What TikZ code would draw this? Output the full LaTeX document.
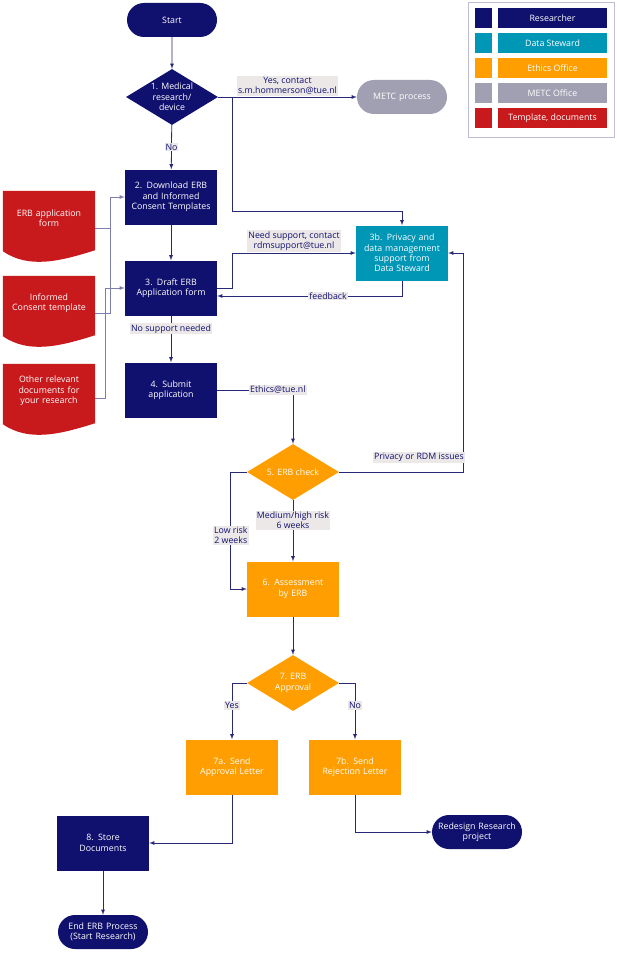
\documentclass[tikz,border=0pt]{standalone}
\usepackage{fontspec}
\setmainfont{Open Sans}
\usetikzlibrary{shapes.geometric,shapes.misc,positioning}
\definecolor{navy}{RGB}{16,16,110}
\definecolor{steward}{RGB}{0,150,182}
\definecolor{ethics}{RGB}{255,158,0}
\definecolor{metc}{RGB}{160,160,178}
\definecolor{docred}{RGB}{200,25,28}
\definecolor{lbl}{RGB}{236,232,232}
\definecolor{lnk}{RGB}{40,40,120}
\hyphenpenalty=10000
\begin{document}
\begin{tikzpicture}[x=1pt,y=-1pt,>=latex,font=\fontsize{8.8}{10.4}\selectfont,
    box/.style={rectangle,minimum width=92pt,minimum height=55pt,text width=80pt,align=center,text=white,inner sep=1pt},
    researcher/.style={box,fill=navy},
    steward node/.style={box,fill=steward},
    ethics node/.style={box,fill=ethics},
    terminal/.style={rounded rectangle,minimum width=92pt,minimum height=34pt,text width=80pt,align=center,text=white,inner sep=1pt},
    decision/.style={diamond,aspect=1.6,minimum width=92pt,minimum height=56pt,inner sep=0pt,align=center,text=white},
    doc/.style={rectangle,minimum width=92pt,minimum height=54pt,text width=84pt,align=center,text=white,inner sep=1pt},
    tag/.style={fill=lbl,inner sep=1pt,align=center,text=navy},
    line/.style={draw=lnk,thick},
    arr/.style={line,->},
    legkey/.style={rectangle,minimum width=17pt,minimum height=20pt,inner sep=0pt},
    legtext/.style={rectangle,minimum width=109pt,minimum height=20pt,inner sep=0pt,text=white}]
  \useasboundingbox (0,0) rectangle (616,955);
  \fill[white] (0,0) rectangle (616,955);

  % flow
  \node[terminal,fill=navy] (start) at (172,20) {Start};
  \node[decision,fill=navy] (medical) at (172,97) {1. Medical\\research/\\device};
  \node[terminal,fill=metc] (metcp) at (402,97) {METC process};
  \node[researcher] (download) at (171,197) {2. Download ERB and Informed Consent Templates};
  \node[researcher] (draft) at (171,288) {3. Draft ERB Application form};
  \node[steward node] (privacy) at (402,253) {3b. Privacy and data management support from Data Steward};
  \node[researcher] (submit) at (171,390) {4. Submit\\application};
  \node[decision,fill=ethics] (check) at (293,472) {5. ERB check};
  \node[ethics node] (assess) at (293,589) {6. Assessment by ERB};
  \node[decision,fill=ethics] (approval) at (293,683) {7. ERB\\Approval};
  \node[ethics node] (send) at (232,767) {7a. Send Approval Letter};
  \node[ethics node] (reject) at (355,767) {7b. Send Rejection Letter};
  \node[researcher] (store) at (103,843) {8. Store\\Documents};
  \node[terminal,fill=navy] (redesign) at (477,832) {Redesign Research\\project};
  \node[terminal,fill=navy] (finish) at (103,932) {End ERB Process (Start Research)};

  % documents
  \node[doc] (formdoc) at (49,218) {};
  \node[doc] (consentdoc) at (49,303) {};
  \node[doc] (otherdoc) at (49,391) {};
  \foreach \d in {formdoc,consentdoc,otherdoc}
    \fill[docred] (\d.north west) -- (\d.north east) -- ([yshift=-5pt]\d.south east)
      .. controls ([xshift=-35pt,yshift=-16pt]\d.south east) and ([xshift=-20pt,yshift=-24pt]\d.south) .. ([yshift=-6pt]\d.south west) -- cycle;
  \foreach \d/\t in {formdoc/ERB application form,consentdoc/Informed Consent template,otherdoc/Other relevant documents for your research}
    \node[doc] at (\d) {\t};

  % connectors
  \draw[arr] (start) -- (medical);
  \draw[arr] (medical) -- node[tag] {No} (download);
  \draw[arr] (medical) -- node[tag,above=1pt] {Yes, contact\\s.m.hommerson@tue.nl} (metcp);
  \draw[arr] (232,97) |- (402,211) -- (privacy);
  \draw[arr] (download) -- (draft);
  \draw[arr] (draft.east) -- ++(15,0) |- node[tag,pos=0.75,above=1pt] {Need support, contact\\rdmsupport@tue.nl} (privacy.west);
  \draw[arr] (privacy.south) |- node[tag,pos=0.7] {feedback} ([yshift=-8pt]draft.east);
  \draw[arr] (draft) -- node[tag,pos=0.28] {No support needed} (submit);
  \draw[arr] (submit.east) -| node[tag,pos=0.4] {Ethics@tue.nl} (check.north);
  \draw[arr] (check.east) -- ++(124,0) |- node[tag,pos=0.02,above left=0pt and -2pt] {Privacy or RDM issues} (privacy.east);
  \draw[arr] (check.west) -- ++(-16,0) |- node[tag,pos=0.27] {Low risk\\2 weeks} (assess.west);
  \draw[arr] (check) -- node[tag,pos=0.33] {Medium/high risk\\6 weeks} (assess);
  \draw[arr] (assess) -- (approval);
  \draw[arr] (approval.west) -| node[tag,pos=0.7] {Yes} (send.north);
  \draw[arr] (approval.east) -| node[tag,pos=0.7] {No} (reject.north);
  \draw[arr] (send.south) |- (store.east);
  \draw[arr] (reject.south) |- (redesign.west);
  \draw[arr] (store) -- (finish);
  \draw[arr,draw=lnk!60] (formdoc.east |- 0,228) -- (110,228) |- (download.west);
  \draw[line,draw=lnk!60] (consentdoc.east |- 0,313) -- (110,313) -- (110,228);
  \draw[arr,draw=lnk!60] (otherdoc.east |- 0,398) -- (105,398) |- (draft.west);

  % legend
  \draw[lnk!30] (468,2) rectangle (614,137);
  \foreach \c/\t [count=\i] in {navy/Researcher,steward/Data Steward,ethics/Ethics Office,metc/METC Office,docred/{Template, documents}} {
    \node[legkey,fill=\c] (key\i) at (483.5,{18+25*(\i-1)}) {};
    \node[legtext,fill=\c] (leg\i) at (552.5,{18+25*(\i-1)}) {\t};
  }
\end{tikzpicture}
\end{document}
